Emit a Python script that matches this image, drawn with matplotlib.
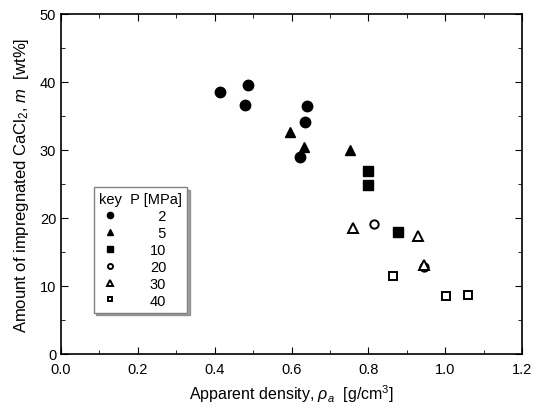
import matplotlib.pyplot as plt
from matplotlib.ticker import MultipleLocator

plt.rcParams['font.family'] = ['Liberation Sans', 'DejaVu Sans']
plt.rcParams['mathtext.fontset'] = 'custom'
plt.rcParams['mathtext.rm'] = 'Liberation Sans'
plt.rcParams['mathtext.it'] = 'Liberation Sans:italic'

# data: apparent density [g/cm3], CaCl2 amount [wt%]
rho_2 = [0.414, 0.486, 0.479, 0.640, 0.635, 0.621]
m_2 = [38.6, 39.6, 36.6, 36.4, 34.1, 28.9]
rho_5 = [0.595, 0.633, 0.751]
m_5 = [32.7, 30.5, 30.0]
rho_10 = [0.798, 0.798, 0.878]
m_10 = [26.9, 24.9, 18.0]
rho_20 = [0.816, 0.944]
m_20 = [19.1, 12.8]
rho_30 = [0.760, 0.928, 0.944]
m_30 = [18.6, 17.4, 13.1]
rho_40 = [0.864, 1.003, 1.060]
m_40 = [11.4, 8.5, 8.7]

fig = plt.figure(figsize=(5.33, 4.1), dpi=100)
ax = fig.add_axes([61 / 533, 55 / 410, 461 / 533, 340 / 410])

ax.plot(rho_2, m_2, 'o', color='black', markersize=7.5, label='  2')
ax.plot(rho_5, m_5, '^', color='black', markersize=7.5, label='  5')
ax.plot(rho_10, m_10, 's', color='black', markersize=6.5, label='10')
ax.plot(rho_20, m_20, 'o', mfc='white', mec='black', mew=1.4, markersize=6, label='20')
ax.plot(rho_30, m_30, '^', mfc='white', mec='black', mew=1.4, markersize=7.5, label='30')
ax.plot(rho_40, m_40, 's', mfc='white', mec='black', mew=1.4, markersize=6, label='40')

ax.set_xlim(0, 1.2)
ax.set_ylim(0, 50)
ax.xaxis.set_major_locator(MultipleLocator(0.2))
ax.xaxis.set_minor_locator(MultipleLocator(0.1))
ax.yaxis.set_major_locator(MultipleLocator(10))
ax.yaxis.set_minor_locator(MultipleLocator(5))
ax.tick_params(which='both', direction='in', top=True, right=True, labelsize=10.5)
ax.tick_params(axis='x', pad=6)
ax.tick_params(which='major', length=5)
ax.tick_params(which='minor', length=3)
for s in ax.spines.values():
    s.set_linewidth(1.2)

ax.set_xlabel(r'Apparent density, $\rho_a$  [g/cm$^3$]', fontsize=11.5, labelpad=4)
ax.set_ylabel(r'Amount of impregnated CaCl$_2$, $m$  [wt%]', fontsize=12, labelpad=6)

leg = ax.legend(title='key  P [MPa]', loc='lower left', bbox_to_anchor=(0.055, 0.10),
                alignment='left', frameon=True, fancybox=False, shadow=True,
                fontsize=10.5, title_fontsize=10.5, handletextpad=2.0,
                labelspacing=0.2, borderpad=0.35, handlelength=1.5, markerscale=0.6)
leg.get_frame().set_edgecolor('gray')

fig.savefig('out.png', dpi=100)
